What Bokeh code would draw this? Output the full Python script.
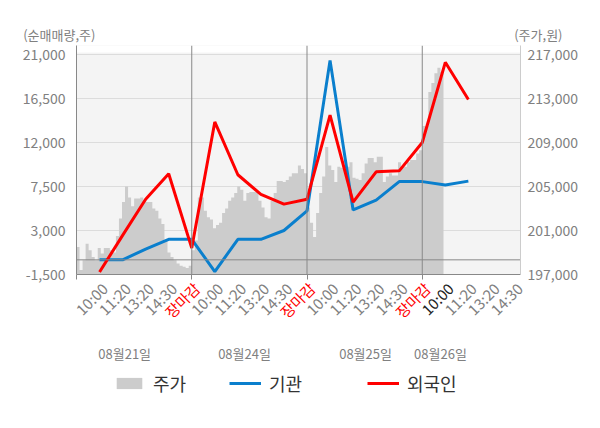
import math
from bokeh.plotting import figure
from bokeh.layouts import column
from bokeh.models import (Range1d, LinearAxis, FixedTicker, Span, ColumnDataSource,
                          Legend, LegendItem, BoxAnnotation, NumeralTickFormatter)
from bokeh.core.properties import value
from bokeh.embed import file_html
from bokeh.resources import INLINE

# ---------------- data ----------------
dates = ["08월21일", "08월24일", "08월25일", "08월26일"]
time_labels = ["10:00", "11:20", "13:20", "14:30", "장마감"]
left_ticks = [-1500, 3000, 7500, 12000, 16500, 21000]
right_ticks = [197000, 201000, 205000, 209000, 213000, 217000]
series_names = ["주가", "기관", "외국인"]
axis_titles = ["(순매매량,주)", "(주가,원)"]

# net buying volume (shares) at each time slot
inst = [0, 0, 1100, 2100, 2100,
        -1200, 2100, 2100, 3000, 5000,
        20400, 5100, 6100, 8000, 8000,
        7650, 8050]
foreign = [-1250, 2500, 6200, 8800, 1200,
           14100, 8700, 6700, 5700, 6200,
           14800, 5900, 9000, 9100, 12000,
           20200, 16400]

# intraday price (won)
price_d1 = [199500, 197400, 198300, 199800, 199200, 198600, 198300, 199400, 198900, 199400,
            199400, 199200, 199000, 200500, 202100, 203600, 205000, 204000, 203200, 203900,
            203900, 204000, 203800, 203600, 203600, 203000, 202800, 202100, 201600, 200100,
            199000, 198600, 198300, 198000, 197800, 197700, 197600, 197800]
price_d2 = [199200, 200100, 204000, 204000, 202800, 202200, 202000, 201200, 201500, 201700,
            202600, 203000, 203700, 204000, 204400, 205000, 204700, 203700, 204400, 204500,
            204500, 204500, 203700, 203100, 202200, 202100, 203700, 204400, 205500, 205500,
            205400, 205600, 205900, 206200, 206200, 206900, 206600, 206200]
price_d3 = [203100, 201700, 200400, 202600, 204400, 205900, 208600, 206900, 206500, 205400,
            206800, 206700, 206700, 206800, 207200, 205800, 205700, 205600, 206200, 207100,
            207600, 207600, 207200, 207700, 207700, 205400, 205900, 206200, 206000, 206000,
            207200, 206800, 206800, 207200, 207400, 207400, 208000, 208300]
price_d4 = [210500, 210500, 213600, 214400, 215300, 215800, 215400, 215900]

# ---------------- geometry ----------------
W, H = 584, 412
TOP_H = 45
FW, FH = 444, 229
LEFT, RIGHT = 76, 64
MAIN_BOTTOM = 12
OVERLAP = 12                              # bottom strip slides up under the axis panel
BOT_Y0 = TOP_H + FH + MAIN_BOTTOM - OVERLAP
BOT_H = H - BOT_Y0

SLOTS_PER_DAY = len(time_labels)
SAMPLES_PER_DAY = len(price_d1)
X_MAX = 19.262
Y0 = left_ticks[0]
Y1 = Y0 + FH * (left_ticks[1] - left_ticks[0]) / 44.0
P0 = right_ticks[0]
P1 = P0 + FH * (right_ticks[1] - right_ticks[0]) / 44.0


def sx(px):
    """page pixel x -> slot units"""
    return (px - LEFT) / FW * X_MAX


def sy(py):
    """page pixel y -> left-axis units"""
    return Y0 + (TOP_H + FH - py) / FH * (Y1 - Y0)


FONT = "Noto Sans CJK KR"
GRAY_TXT = "#808080"
C_AREA, C_INST, C_FOR = "#cccccc", "#0a7fcd", "#ff0000"


def strip(height, y_top, **kw):
    f = figure(width=W, height=height, output_backend="svg", toolbar_location=None,
               x_range=Range1d(sx(0), sx(W)), y_range=Range1d(y_top + height, y_top),
               min_border=0, x_axis_location=None, y_axis_location=None,
               outline_line_color=None, frame_align=False, **kw)
    f.grid.visible = False
    return f


# ---------------- top strip: axis titles ----------------
top = strip(TOP_H, 0, background_fill_color="white", border_fill_color="white")
top.text(x=[sx(22.7), sx(562)], y=[34, 34], text=axis_titles,
         text_align=["left", "right"], text_baseline="middle",
         text_font=value(FONT), text_font_size="13px", text_color=GRAY_TXT)

# ---------------- main chart ----------------
p = figure(frame_width=FW, frame_height=FH, output_backend="svg", toolbar_location=None,
           x_range=Range1d(0, X_MAX), y_range=Range1d(Y0, Y1),
           min_border_left=LEFT, min_border_right=RIGHT, min_border_top=0,
           min_border_bottom=MAIN_BOTTOM, frame_align=False,
           background_fill_color="#f4f4f4", border_fill_color="white", outline_line_color=None)
p.extra_y_ranges = {"price": Range1d(P0, P1)}

p.add_layout(BoxAnnotation(bottom=sy(52), fill_color="white", fill_alpha=1.0,
                           line_alpha=0, level="underlay"))

p.xgrid.visible = False
p.ygrid.ticker = FixedTicker(ticks=left_ticks)
p.ygrid.grid_line_color = "#dcdcdc"

p.yaxis.ticker = FixedTicker(ticks=left_ticks)
p.yaxis.formatter = NumeralTickFormatter(format="0,0")
p.yaxis.axis_line_color = "#888888"
p.yaxis.major_tick_out = 0
p.yaxis.major_tick_in = 0
p.yaxis.minor_tick_out = 0
p.yaxis.minor_tick_in = 0
p.yaxis.major_label_standoff = 11
p.yaxis.major_label_text_font = FONT
p.yaxis.major_label_text_font_size = "14px"
p.yaxis.major_label_text_color = GRAY_TXT

ra = LinearAxis(y_range_name="price", ticker=FixedTicker(ticks=right_ticks),
                formatter=NumeralTickFormatter(format="0,0"))
ra.axis_line_color = "#cccccc"
ra.major_tick_out = 0
ra.major_tick_in = 0
ra.minor_tick_out = 0
ra.minor_tick_in = 0
ra.major_label_standoff = 7
ra.major_label_text_font = FONT
ra.major_label_text_font_size = "14px"
ra.major_label_text_color = GRAY_TXT
p.add_layout(ra, "right")

day_bounds = [SLOTS_PER_DAY * d for d in range(len(dates))]
p.xaxis.ticker = FixedTicker(ticks=[], minor_ticks=day_bounds)
p.xaxis.axis_line_color = "#888888"
p.xaxis.minor_tick_line_color = "#888888"
p.xaxis.minor_tick_out = 5
p.xaxis.minor_tick_in = 0
p.xaxis.major_tick_out = 0
p.xaxis.major_tick_in = 0
p.xaxis.major_label_standoff = 0

# price area
px_list, py_list = [], []
for d, series in enumerate([price_d1, price_d2, price_d3, price_d4]):
    for i, v in enumerate(series):
        px_list.append(d * SLOTS_PER_DAY + SLOTS_PER_DAY * i / SAMPLES_PER_DAY)
        py_list.append(v)
area_src = ColumnDataSource(dict(x=px_list, y1=[P0] * len(px_list), y2=py_list))
p.varea_step(x="x", y1="y1", y2="y2", step_mode="after", source=area_src,
             fill_color=C_AREA, y_range_name="price")

p.add_layout(Span(location=0, dimension="width", line_color="#888888", line_width=1, level="glyph"))
for b in day_bounds[1:]:
    p.add_layout(Span(location=b, dimension="height", line_color="#888888", line_width=1,
                      level="glyph"))

slots = list(range(1, len(inst) + 1))
p.line(slots, inst, line_color=C_INST, line_width=3)
p.line(slots, foreign, line_color=C_FOR, line_width=3)

# ---------------- bottom strip: tick labels, dates, legend ----------------
bot = strip(BOT_H, BOT_Y0, background_fill_alpha=0, border_fill_alpha=0,
            margin=(-OVERLAP, 0, 0, 0))

tick_x, tick_txt, tick_col = [], [], []
for s in range(1, int(X_MAX) + 1):
    d, k = divmod(s - 1, SLOTS_PER_DAY)
    tick_x.append(s)
    tick_txt.append(time_labels[k])
    if time_labels[k] == "장마감":
        tick_col.append(C_FOR)
    elif d == len(dates) - 1 and k == 0:
        tick_col.append("#222222")
    else:
        tick_col.append(GRAY_TXT)
bot.text(x=tick_x, y=[285] * len(tick_x), text=tick_txt, text_color=tick_col,
         x_offset=5, angle=math.pi / 4, text_align="right", text_baseline="middle",
         text_font=value(FONT), text_font_size="15px")

date_pos = [2.09, 7.29, 12.54, 15.79]
bot.text(x=date_pos, y=[353] * len(dates), text=dates, text_color=GRAY_TXT,
         text_align="center", text_baseline="middle",
         text_font=value(FONT), text_font_size="13px")

# legend: placeholder renderers (a single NaN point, nothing drawn) carry the swatch style
nan = float("nan")
r_area = bot.varea(x=[nan], y1=[nan], y2=[nan], fill_color=C_AREA)
r_inst = bot.line(x=[nan], y=[nan], line_color=C_INST, line_width=3)
r_for = bot.line(x=[nan], y=[nan], line_color=C_FOR, line_width=3)
for lbl, rend, xloc in zip(series_names, [r_area, r_inst, r_for], [113, 229, 367]):
    lg = Legend(items=[LegendItem(label=lbl, renderers=[rend])], location=(xloc, 16),
                orientation="horizontal", glyph_width=32, glyph_height=14, label_standoff=8,
                padding=0, margin=0, border_line_alpha=0, background_fill_alpha=0,
                label_text_font=FONT, label_text_font_size="18px", label_text_color="#333333")
    bot.add_layout(lg, "center")

layout = column(top, p, bot, spacing=0)
open("out.html", "w").write(file_html(layout, INLINE))
